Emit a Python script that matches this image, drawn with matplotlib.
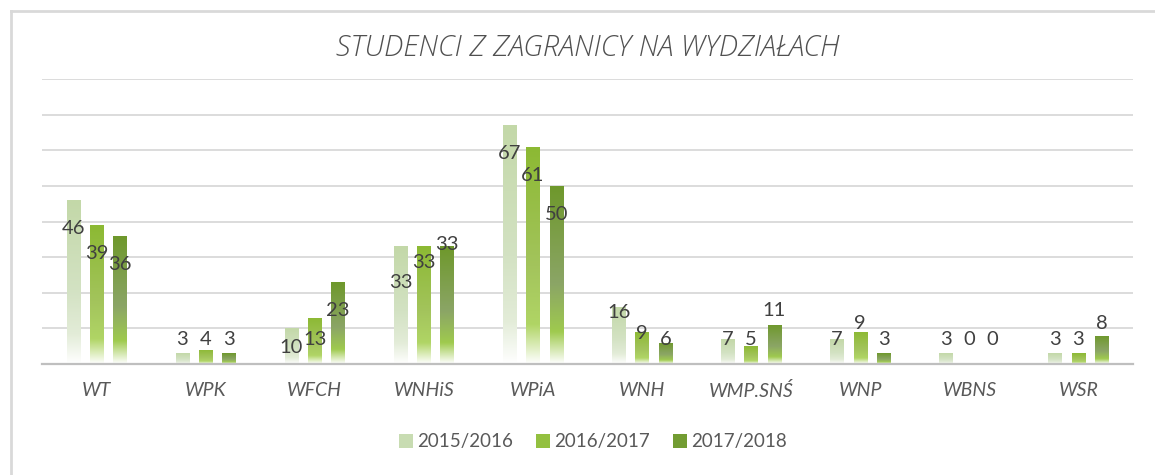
import numpy as np
import matplotlib
matplotlib.use("Agg")
import matplotlib.pyplot as plt
from matplotlib.colors import LinearSegmentedColormap
from matplotlib.patches import Rectangle
from matplotlib.lines import Line2D

# ---- data ----
categories = ["WT", "WPK", "WFCH", "WNHiS", "WPiA", "WNH", "WMP.SNŚ", "WNP", "WBNS", "WSR"]
series_names = ["2015/2016", "2016/2017", "2017/2018"]
v2015 = [46, 3, 10, 33, 67, 16, 7, 7, 3, 3]
v2016 = [39, 4, 13, 33, 61, 9, 5, 9, 0, 3]
v2017 = [36, 3, 23, 33, 50, 6, 11, 3, 0, 8]
title = "STUDENCI Z ZAGRANICY NA WYDZIAŁACH"

# ---- style ----
series_vals = [v2015, v2016, v2017]
grad_stops = [
    [(0.0, "#c3d8a8"), (0.55, "#d3e2c3"), (0.82, "#e3ecd8"), (1.0, "#ffffff")],
    [(0.0, "#8cb933"), (0.55, "#a3c45c"), (0.82, "#b0d565"), (1.0, "#ffffff")],
    [(0.0, "#6e982b"), (0.55, "#8ba566"), (0.82, "#9fca4e"), (1.0, "#ffffff")],
]
legend_colors = ["#c8dcb2", "#93c040", "#729c32"]
cmaps = [LinearSegmentedColormap.from_list(f"g{i}", s) for i, s in enumerate(grad_stops)]

W, H, DPI = 1155, 475, 100
fig = plt.figure(figsize=(W / DPI, H / DPI), dpi=DPI)
fig.patch.set_facecolor("white")

# chart frame (top and left edges visible)
fig.add_artist(Line2D([10.5 / W, 1.0], [1 - 10.5 / H, 1 - 10.5 / H], color="#d9d9d9", lw=2))
fig.add_artist(Line2D([10.5 / W, 10.5 / W], [0, 1 - 10.5 / H], color="#d9d9d9", lw=2))

left, right = 42, 1133
top, bottom = 79, 364
ax = fig.add_axes([left / W, 1 - bottom / H, (right - left) / W, (bottom - top) / H])
ax.set_xlim(-0.5, len(categories) - 0.5)
ax.set_ylim(0, 80)
ax.set_yticks(np.arange(0, 81, 10))
ax.yaxis.grid(True, color="#d9d9d9", lw=1.3)
ax.set_axisbelow(True)
ax.tick_params(axis="y", left=False, labelleft=False)
for s in ["left", "right", "top"]:
    ax.spines[s].set_visible(False)
ax.spines["bottom"].set_color("#bfbfbf")
ax.spines["bottom"].set_linewidth(1.6)
ax.set_xticks(range(len(categories)))
ax.set_xticklabels(categories, fontsize=14, style="italic", color="#595959", family="Lato")
ax.tick_params(axis="x", length=0, pad=13)

font = "Lato"
pitch = 0.2136
bw = 0.122
grad = np.linspace(0, 1, 256).reshape(-1, 1)

# label nudges (data units) where the original labels were shifted to avoid overlaps
nudge = {(2, 0): -2.5, (3, 0): -2, (3, 1): 3.4, (3, 2): 8.5, (5, 0): 6.4, (5, 1): 1.7,
         (6, 2): 8, (7, 1): 4.5, (9, 2): 4.3}

x = np.arange(len(categories))
for j, vals in enumerate(series_vals):
    xs = x + (j - 1) * pitch
    bars = ax.bar(xs, vals, width=bw, color="none", edgecolor="none", zorder=2)
    for i, b in enumerate(bars):
        h = b.get_height()
        if h > 0:
            im = ax.imshow(grad, cmap=cmaps[j], aspect="auto", interpolation="bicubic",
                           extent=[b.get_x(), b.get_x() + b.get_width(), 0, h],
                           origin="upper", zorder=2)
            im.set_clip_path(b)
        ly = max(vals[i] - 8, 7) + nudge.get((i, j), 0)
        ax.text(xs[i], ly, str(vals[i]), ha="center", va="center", fontsize=14.5,
                color="#404040", family=font, zorder=3)
ax.set_xlim(-0.5, len(categories) - 0.5)
ax.set_ylim(0, 80)

fig.text(588 / W, 1 - 48 / H, title, ha="center", va="center", fontsize=21,
         style="italic", color="#505050", family="Open Sans", fontweight="light")

handles = [Rectangle((0, 0), 1, 1, facecolor=c, edgecolor="none") for c in legend_colors]
fig.legend(handles, series_names, loc="center", bbox_to_anchor=(593 / W, 1 - 442 / H),
           ncol=3, frameon=False, handlelength=0.75, handleheight=0.75, handletextpad=0.25,
           columnspacing=1.2, prop={"family": font, "size": 13.5}, labelcolor="#595959")

fig.savefig("out.png", dpi=DPI, facecolor="white")
